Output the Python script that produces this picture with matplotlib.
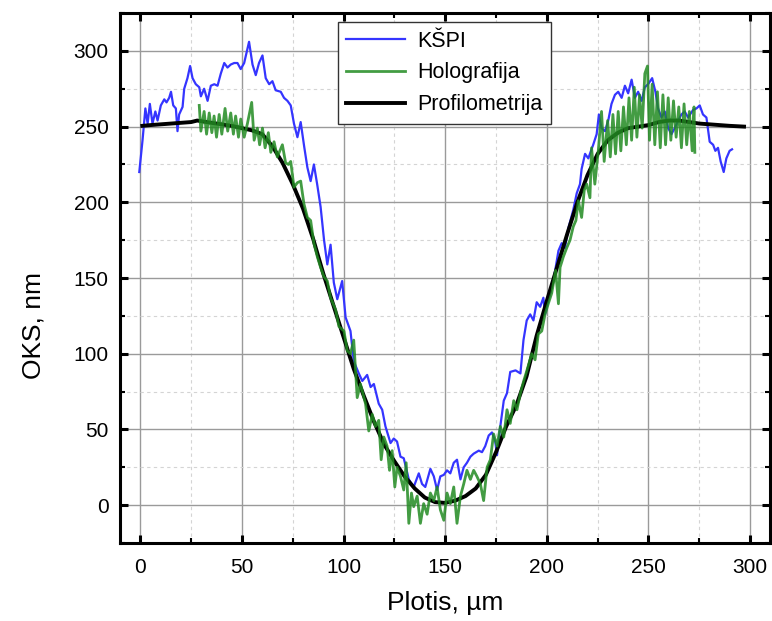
"""Profile comparison: KSPI vs holography vs profilometry."""

import matplotlib
matplotlib.use("Agg")
import matplotlib.pyplot as plt
from matplotlib.ticker import MultipleLocator

plt.rcParams["font.family"] = ["Liberation Sans", "DejaVu Sans"]

# KŠPI (blue)
kspi_x = [-0.5, 1.1, 2.5, 3.6, 4.7, 6.0, 7.4, 8.5, 10.1, 11.8, 12.9, 14.2, 15.1, 16.2, 17.5,
          18.3, 19.1, 20.8, 21.6, 23.2, 24.5, 25.7, 27.3, 29.0, 29.8, 31.4, 33.1, 34.7, 36.4,
          38.0, 39.6, 41.3, 42.9, 44.5, 46.2, 47.8, 49.4, 51.1, 53.5, 55.2, 56.8, 58.4, 60.1,
          61.7, 63.4, 65.0, 66.6, 69.1, 70.7, 72.4, 74.0, 75.6, 77.3, 78.9, 80.6, 82.2, 83.8,
          85.4, 87.0, 88.7, 90.4, 92.0, 93.6, 95.2, 96.9, 99.3, 101.0, 103.4, 105.0, 107.5,
          109.2, 111.6, 113.3, 114.9, 117.3, 119.0, 120.6, 123.1, 124.7, 126.3, 128.0, 129.6,
          132.1, 134.5, 137.0, 138.6, 140.2, 142.7, 144.4, 146.0, 147.6, 149.3, 150.9, 152.5,
          154.2, 155.8, 157.5, 159.1, 160.7, 162.4, 164.0, 166.5, 168.1, 169.7, 171.4, 173.0,
          174.6, 175.5, 177.1, 178.8, 180.4, 182.0, 184.6, 187.0, 188.5, 190.1, 191.8, 193.4,
          195.0, 196.7, 198.3, 199.1, 200.8, 202.4, 204.1, 205.7, 207.3, 208.9, 210.6, 213.0,
          214.7, 216.3, 217.1, 218.8, 220.4, 221.7, 222.8, 224.5, 225.6, 226.9, 228.6, 230.2,
          231.8, 233.5, 235.1, 236.8, 238.4, 240.0, 241.7, 243.3, 244.9, 246.6, 248.2, 249.8,
          251.8, 253.4, 254.7, 256.4, 258.0, 259.7, 261.3, 262.9, 264.6, 266.2, 267.8, 269.5,
          271.9, 273.6, 275.2, 276.8, 278.5, 280.1, 281.8, 282.9, 284.2, 285.5, 287.0, 288.3,
          289.9, 291.1]
kspi_y = [220, 241, 262, 252, 265, 252, 260, 254, 264, 268, 266, 269, 273, 264, 262,
          247, 258, 263, 275, 282, 290, 282, 278, 276, 270, 275, 267, 277, 278,
          277, 285, 292, 289, 291, 292, 292, 288, 292, 306, 291, 284, 292, 297,
          282, 278, 280, 274, 273, 269, 267, 264, 252, 243, 253, 237, 223, 214,
          225, 212, 197, 175, 159, 172, 147, 136, 148, 124, 115, 95, 87,
          82, 86, 78, 80, 67, 63, 52, 41, 44, 42, 32, 31,
          17, 12, 21, 14, 12, 24, 19, 10, 19, 20, 23, 21,
          28, 30, 17, 25, 28, 32, 34, 36, 35, 39, 46, 48,
          42, 33, 52, 69, 74, 88, 89, 87, 109, 122, 126, 122,
          134, 131, 137, 126, 135, 144, 155, 168, 173, 170, 183, 195,
          206, 212, 222, 232, 229, 234, 238, 245, 258, 249, 247, 254,
          265, 271, 273, 269, 277, 272, 281, 269, 273, 267, 276, 278,
          282, 273, 262, 256, 260, 249, 245, 249, 254, 258, 260, 256,
          261, 262, 264, 258, 256, 240, 238, 234, 236, 227, 220, 229,
          234, 235]

# Holografija (green)
holo_x = [29.0, 29.8, 31.4, 32.6, 33.9, 35.2, 36.3, 37.5, 38.8, 40.1, 41.7, 43.0, 44.5,
          45.8, 46.9, 48.3, 49.4, 51.1, 52.7, 54.8, 56.0, 57.6, 58.7, 60.1, 61.4, 63.0,
          64.2, 65.8, 67.4, 69.9, 71.5, 72.9, 74.0, 75.6, 77.3, 78.9, 80.5, 82.2, 83.8,
          85.4, 87.1, 88.7, 90.3, 92.0, 93.6, 96.1, 97.7, 100.2, 101.8, 103.4, 105.0,
          106.7, 108.3, 110.8, 112.4, 114.1, 115.7, 117.3, 118.5, 119.8, 121.4, 122.6,
          123.9, 125.2, 126.3, 128.0, 129.6, 130.8, 132.1, 133.4, 134.5, 136.2, 137.8,
          139.4, 141.1, 142.7, 144.4, 146.0, 147.6, 149.3, 150.9, 152.5, 154.2, 155.8,
          157.5, 159.1, 160.7, 162.4, 164.0, 165.6, 167.3, 168.9, 170.6, 172.2, 173.8,
          175.5, 177.1, 178.8, 180.4, 182.0, 183.7, 185.3, 187.0, 188.6, 190.2, 192.6,
          194.2, 195.8, 197.5, 199.1, 200.7, 202.4, 204.3, 205.7, 206.5, 208.1, 209.8,
          211.4, 213.0, 214.3, 215.5, 217.1, 218.4, 219.6, 221.2, 222.0, 223.6, 225.3,
          226.9, 228.2, 229.9, 231.2, 232.5, 233.8, 235.1, 236.4, 237.7, 239.1, 240.4,
          241.7, 243.0, 244.3, 245.6, 246.9, 248.2, 249.5, 250.5, 251.8, 253.1, 254.4,
          255.8, 257.1, 258.4, 259.7, 261.0, 262.3, 263.6, 264.9, 266.2, 267.5, 268.8,
          270.1, 271.5, 272.4, 272.8]
holo_y = [264, 247, 260, 245, 259, 246, 257, 243, 258, 245, 262, 247, 259,
          245, 257, 243, 255, 243, 252, 266, 241, 249, 238, 249, 236, 246,
          233, 240, 230, 238, 226, 225, 227, 210, 213, 214, 199, 190, 188,
          173, 164, 157, 151, 148, 137, 129, 118, 115, 102, 100, 109,
          71, 80, 67, 49, 60, 52, 56, 30, 45, 39, 23,
          36, 12, 25, 19, 10, 28, -12, 8, -1, 6, -12,
          1, -6, 8, 3, 12, -3, -10, 8, 1, 12, -12,
          6, 14, 23, 17, 23, 19, 14, 3, 25, 30, 47,
          39, 52, 45, 63, 54, 69, 63, 74, 82, 89, 100,
          96, 113, 115, 126, 133, 140, 155, 133, 157, 164, 170,
          175, 184, 188, 201, 190, 208, 212, 203, 236, 212, 234,
          260, 227, 254, 230, 258, 232, 260, 234, 263, 238, 269,
          241, 276, 243, 271, 249, 285, 290, 241, 278, 238, 273,
          236, 271, 238, 269, 241, 267, 243, 263, 236, 265, 238,
          260, 234, 263, 233]

# Profilometrija (black)
prof_x = [1, 5, 10, 15, 20, 25, 28, 35, 40, 45, 50, 55, 60, 65, 70, 75, 80, 85, 90, 95,
          100, 105, 110, 115, 120, 125, 130, 135, 140, 145, 150, 155, 160, 165, 170, 175,
          180, 185, 190, 195, 200, 205, 210, 215, 220, 225, 230, 235, 240, 245, 250, 255,
          260, 265, 270, 275, 280, 285, 290, 297]
prof_y = [250.5, 251, 251.5, 252, 252.5, 253, 254, 252.5, 251.5, 250.5, 249, 247.5, 245,
          237, 226, 212, 196, 176, 153, 132, 111, 90, 72, 55, 40, 29, 19, 11, 5, 2,
          1.5, 3, 6, 11, 20, 35, 52, 66, 85, 112, 135, 157, 179, 200, 218, 232, 241,
          246, 249, 250, 251, 253, 254, 254, 253, 252, 251.5, 251, 250.5, 250]

fig = plt.figure(figsize=(7.72, 6.21), dpi=100)
ax = fig.add_axes([0.1554, 0.1256, 0.8426, 0.8534])

ax.plot(kspi_x, kspi_y, color="#3535ff", lw=1.6, label="KŠPI", zorder=3)
ax.plot(holo_x, holo_y, color="#228b22", lw=2.0, alpha=0.85, label="Holografija", zorder=5)
ax.plot(prof_x, prof_y, color="black", lw=2.8, label="Profilometrija", zorder=4)

ax.set_xlim(-10, 310)
ax.set_ylim(-25, 325)
ax.xaxis.set_major_locator(MultipleLocator(50))
ax.xaxis.set_minor_locator(MultipleLocator(25))
ax.yaxis.set_major_locator(MultipleLocator(50))
ax.yaxis.set_minor_locator(MultipleLocator(25))

ax.grid(which="major", color="#9a9a9a", lw=1.0, ls="-")
ax.grid(which="minor", color="#d4d4d4", lw=0.8, ls=(0, (3, 3)))
ax.set_axisbelow(True)

ax.tick_params(which="major", direction="in", length=6, width=2.2,
               top=True, right=True, labelsize=15)
ax.tick_params(axis="x", which="major", pad=11)
ax.tick_params(axis="y", which="major", pad=8)
ax.tick_params(which="minor", direction="in", length=3.5, width=1.5,
               top=True, right=True)
for spine in ax.spines.values():
    spine.set_linewidth(2.2)

ax.set_xlabel("Plotis, µm", fontsize=19, labelpad=10)
ax.set_ylabel("OKS, nm", fontsize=19)
ax.yaxis.set_label_coords(-0.115, 0.41)

leg = ax.legend(loc="upper center", bbox_to_anchor=(0.499, 0.983), fontsize=15.5,
                fancybox=False, edgecolor="#333333", framealpha=1.0,
                handlelength=2.7, handletextpad=0.6, labelspacing=0.5,
                borderpad=0.4, borderaxespad=0)
leg.get_frame().set_linewidth(1.0)

fig.savefig("out.png", dpi=100)
